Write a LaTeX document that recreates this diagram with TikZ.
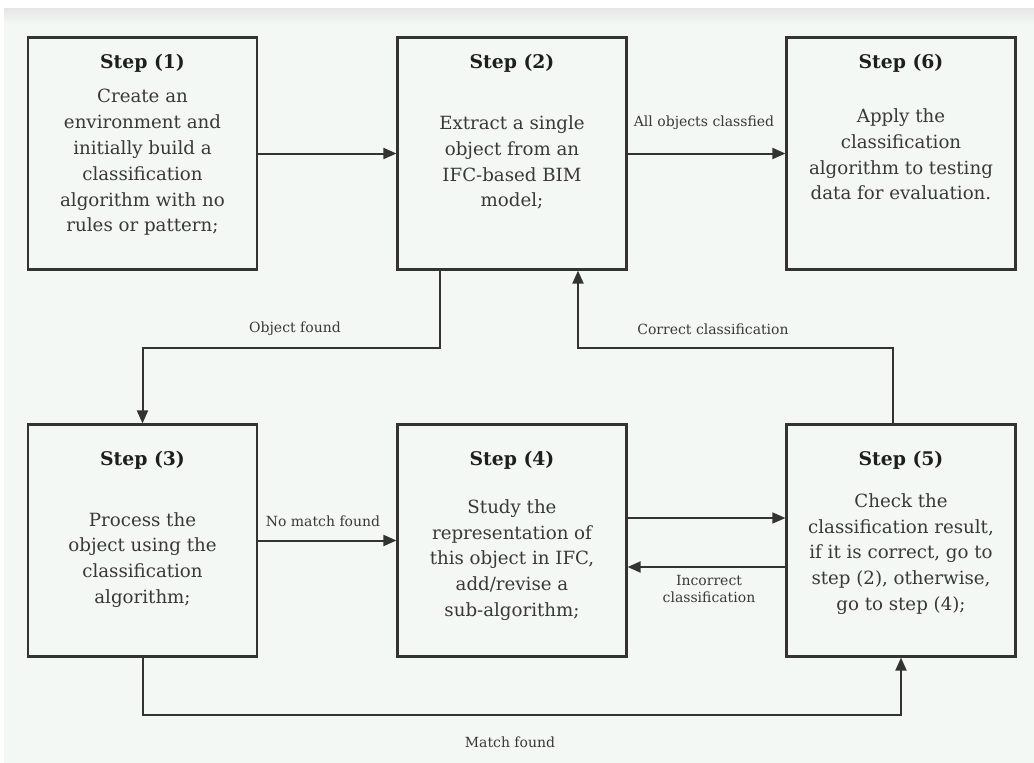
\documentclass[tikz,border=0pt]{standalone}
\usepackage{fontspec}
\setmainfont{DejaVu Serif}
\usetikzlibrary{arrows.meta}
\definecolor{bg}{HTML}{F4F8F5}
\definecolor{ln}{HTML}{333333}
\definecolor{tx}{HTML}{383838}
\definecolor{tt}{HTML}{1E1E1E}
\begin{document}
\begin{tikzpicture}[x=1pt,y=-1pt,
  stepbox/.style={draw=ln,line width=2.2pt,minimum width=229pt,minimum height=232pt,inner sep=0pt},
  ttl/.style={font=\fontsize{18.8}{22}\selectfont\bfseries,text=tt,inner sep=0pt},
  body/.style={font=\fontsize{18.2}{25.8}\selectfont,text=tx,align=center,inner sep=0pt},
  lbl/.style={font=\fontsize{14}{17}\selectfont,text=tx,align=center,inner sep=0pt},
  conn/.style={draw=ln,line width=2pt,-{Triangle[length=13pt,width=11pt]}}]
\useasboundingbox (0,0) rectangle (1034,763);
\fill[white] (0,0) rectangle (1034,763);
\fill[bg] (4,8) rectangle (1034,763);
\shade[top color=black!10,bottom color=bg] (4,8) rectangle (1034,24);

% boxes
\node[stepbox] (b1) at (142.5,153.5) {};
\node[stepbox] (b2) at (512,153.5) {};
\node[stepbox] (b6) at (901,153.5) {};
\node[stepbox] (b3) at (142.5,540.5) {};
\node[stepbox] (b4) at (512,540.5) {};
\node[stepbox] (b5) at (901,540.5) {};

% titles
\node[ttl] (t1) at (142.5,63) {Step (1)};
\node[ttl] (t2) at (512,63) {Step (2)};
\node[ttl] (t6) at (901,63) {Step (6)};
\node[ttl] (t3) at (142.5,460) {Step (3)};
\node[ttl] (t4) at (512,460) {Step (4)};
\node[ttl] (t5) at (901,460) {Step (5)};

% bodies
\node[body] (x1) at (142.5,162.5) {Create an\\environment and\\initially build a\\classification\\algorithm with no\\rules or pattern;};
\node[body] (x2) at (512,162.5) {Extract a single\\object from an\\IFC-based BIM\\model;};
\node[body] (x6) at (901,154.5) {Apply the\\classification\\algorithm to testing\\data for evaluation.};
\node[body] (x3) at (142.5,560) {Process the\\object using the\\classification\\algorithm;};
\node[body] (x4) at (512,560) {Study the\\representation of\\this object in IFC,\\add/revise a\\sub-algorithm;};
\node[body] (x5) at (901,554) {Check the\\classification result,\\if it is correct, go to\\step (2), otherwise,\\go to step (4);};

% helper coordinates
\coordinate (m1) at (300,348);
\coordinate (m2) at (700,348);
\coordinate (m3) at (500,715);

% connectors
\draw[conn] (b1.east) -- (b2.west);
\draw[conn] (b2.east) -- (b6.west);
\draw[conn] ([xshift=-72pt]b2.south) |- (m1) -| (b3.north);
\draw[conn] ([xshift=-8pt]b5.north) |- (m2) -| ([xshift=66pt]b2.south);
\draw[conn] (b3.east) -- (b4.west);
\draw[conn,line width=1.6pt] ([yshift=22.5pt]b4.east) -- ([yshift=22.5pt]b5.west);
\draw[conn] ([yshift=-26.5pt]b5.west) -- ([yshift=-26.5pt]b4.east);
\draw[conn] (b3.south) |- (m3) -| (b5.south);

% labels
\node[lbl] (l1) at (704,123) {All objects classfied};
\node[lbl] (l2) at (295,329) {Object found};
\node[lbl] (l3) at (713,329) {Correct classification};
\node[lbl] (l4) at (323,521) {No match found};
\node[lbl,font=\fontsize{14}{17.5}\selectfont] (l5) at (709,589) {Incorrect\\classification};
\node[lbl] (l6) at (510,742) {Match found};
\end{tikzpicture}
\end{document}
